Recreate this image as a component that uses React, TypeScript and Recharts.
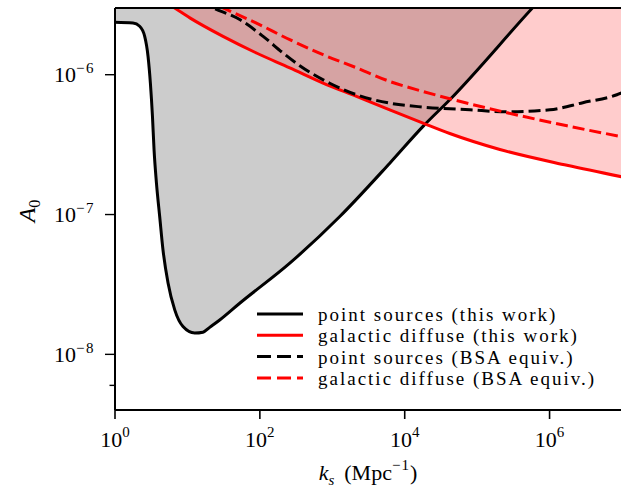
import { Area, ComposedChart, Label, Legend, Line, ReferenceLine, XAxis, YAxis } from "recharts";

const X_MIN = 1;
const X_MAX = 1e7;
const Y_MIN = 4e-9;
const Y_MAX = 3e-6;

const FONT = "'Liberation Serif', 'DejaVu Serif', serif";

const xTicks = [1, 1e2, 1e4, 1e6];
const yMajorTicks = [1e-8, 1e-7, 1e-6];
const yMinorTicks = [
  5e-9, 6e-9, 7e-9, 8e-9, 9e-9,
  2e-8, 3e-8, 4e-8, 5e-8, 6e-8, 7e-8, 8e-8, 9e-8,
  2e-7, 3e-7, 4e-7, 5e-7, 6e-7, 7e-7, 8e-7, 9e-7,
  2e-6,
];

// point sources (this work)
const psThisK = [1, 1.77, 2.19, 2.57, 2.86, 3.08, 3.29, 3.46, 3.73, 4.14, 4.6, 5.4, 6.68, 8.69, 12.6, 16.4, 20.3, 27.9, 52.7, 259, 1270, 6220, 1.79e4, 4.19e4, 5.87e5, 8.6e5];
const psThisA = [2.37e-6, 2.34e-6, 2.22e-6, 1.88e-6, 1.35e-6, 8.72e-7, 5.04e-7, 2.91e-7, 1.69e-7, 9.68e-8, 5.58e-8, 3.24e-8, 2.08e-8, 1.58e-8, 1.42e-8, 1.44e-8, 1.56e-8, 1.76e-8, 2.32e-8, 4.49e-8, 9.68e-8, 2.33e-7, 4.27e-7, 6.62e-7, 3.02e-6, 3.74e-6];

// galactic diffuse (this work)
const gdThisK = [4.14, 6.33, 10.8, 31, 89.7, 259, 746, 2160, 6220, 1.79e4, 4.19e4, 2.06e5, 1.74e6, 1e7];
const gdThisA = [3.48e-6, 3.05e-6, 2.55e-6, 1.88e-6, 1.43e-6, 1.12e-6, 8.72e-7, 7.0e-7, 5.61e-7, 4.51e-7, 3.8e-7, 2.92e-7, 2.25e-7, 1.86e-7];

// point sources (BSA equiv.)
const psBsaK = [14.8, 22.6, 52.7, 111, 209, 356, 923, 2160, 6220, 1.79e4, 7.93e4, 2.57e5, 1.01e6, 2.88e6, 8.5e6, 1e7];
const psBsaA = [3.33e-6, 3.0e-6, 2.48e-6, 1.88e-6, 1.43e-6, 1.16e-6, 8.69e-7, 7.19e-7, 6.26e-7, 5.87e-7, 5.61e-7, 5.43e-7, 5.61e-7, 6.31e-7, 7.19e-7, 7.43e-7];

// galactic diffuse (BSA equiv.)
const gdBsaK = [17.3, 31, 89.7, 259, 746, 2160, 6220, 1.79e4, 4.19e4, 2.58e5, 1.74e6, 1e7];
const gdBsaA = [3.44e-6, 3.0e-6, 2.34e-6, 1.78e-6, 1.39e-6, 1.12e-6, 8.95e-7, 7.59e-7, 6.73e-7, 5.35e-7, 4.31e-7, 3.6e-7];

const toRows = (ks: number[], as: number[]) => ks.map((k, i) => ({ k, a: as[i] }));

const psThis = toRows(psThisK, psThisA);
const gdThis = toRows(gdThisK, gdThisA);
const psBsa = toRows(psBsaK, psBsaA);
const gdBsa = toRows(gdBsaK, gdBsaA);

const legendItems = [
  { label: "point sources (this work)", color: "#000000", dash: undefined },
  { label: "galactic diffuse (this work)", color: "#ff0000", dash: undefined },
  { label: "point sources (BSA equiv.)", color: "#000000", dash: "14 6" },
  { label: "galactic diffuse (BSA equiv.)", color: "#ff0000", dash: "14 6" },
];

function XTick({ x, y, payload }: any) {
  const exp = Math.round(Math.log10(payload.value));
  return (
    <g>
      <line x1={x} x2={x} y1={y} y2={y + 9} stroke="#000" strokeWidth={1.6} />
      <text x={x} y={y + 37} textAnchor="middle" fontFamily={FONT} fontSize={22} fill="#000">
        10<tspan dy={-10} fontSize={15}>{exp}</tspan>
      </text>
    </g>
  );
}

function YTick({ x, y, payload }: any) {
  const v = payload.value;
  const major = yMajorTicks.includes(v);
  const exp = Math.round(Math.log10(v));
  return (
    <g>
      <line x1={x} x2={x - (major ? 10 : 5.5)} y1={y} y2={y} stroke="#000" strokeWidth={1.4} />
      {major && (
        <text x={x - 20} y={y + 7.5} textAnchor="end" fontFamily={FONT} fontSize={22} fill="#000">
          10<tspan dy={-9} fontSize={15} letterSpacing={1.5}>{"\u2212" + Math.abs(exp)}</tspan>
        </text>
      )}
    </g>
  );
}

function LegendBox() {
  return (
    <svg width={360} height={90}>
      {legendItems.map((it, i) => (
        <g key={it.label}>
          <line x1={0} x2={46} y1={11 + 21.3 * i} y2={11 + 21.3 * i} stroke={it.color} strokeWidth={3} strokeDasharray={it.dash} />
          <text x={61} y={18 + 21.3 * i} fontFamily={FONT} fontSize={19} letterSpacing={2} fill="#000">
            {it.label}
          </text>
        </g>
      ))}
    </svg>
  );
}

export default function App() {
  return (
    <div style={{ position: "absolute", left: 0, top: 0, width: 621, height: 487, overflow: "hidden", background: "#fff" }}>
      <ComposedChart width={623} height={487} margin={{ top: 8, right: 1, bottom: 0, left: 0 }}>
        <XAxis
          type="number"
          dataKey="k"
          scale="log"
          domain={[X_MIN, X_MAX]}
          allowDataOverflow
          ticks={xTicks}
          tick={<XTick />}
          tickLine={false}
          tickSize={0}
          tickMargin={0}
          height={77}
          axisLine={{ stroke: "#000", strokeWidth: 2 }}
        >
          <Label
            content={() => (
              <text x={368} y={480} textAnchor="middle" fontFamily={FONT} fontSize={22} fill="#000">
                <tspan fontStyle="italic">k</tspan>
                <tspan fontStyle="italic" fontSize={15} dy={5}>s</tspan>
                <tspan dy={-5}>{"\u2009 (Mpc"}</tspan>
                <tspan fontSize={15} dy={-10} letterSpacing={1}>{"\u22121"}</tspan>
                <tspan dy={10}>)</tspan>
              </text>
            )}
          />
        </XAxis>
        <YAxis
          type="number"
          dataKey="a"
          scale="log"
          domain={[Y_MIN, Y_MAX]}
          allowDataOverflow
          ticks={[...yMinorTicks, ...yMajorTicks]}
          tick={<YTick />}
          tickLine={false}
          tickSize={0}
          tickMargin={0}
          width={115}
          axisLine={{ stroke: "#000", strokeWidth: 2 }}
        >
          <Label
            content={() => (
              <text x={35} y={211} transform="rotate(-90, 35, 211)" textAnchor="middle" fontFamily={FONT} fontSize={24} fill="#000">
                <tspan fontStyle="italic">A</tspan>
                <tspan fontSize={16} dy={5}>0</tspan>
              </text>
            )}
          />
        </YAxis>

        <Area
          data={psThis}
          dataKey={(d: any) => [d.a, Y_MAX]}
          type="monotone"
          stroke="none"
          fill="#cccccc"
          fillOpacity={1}
          dot={false}
          activeDot={false}
          isAnimationActive={false}
        />
        <Area
          data={gdThis}
          dataKey={(d: any) => [d.a, Y_MAX]}
          type="monotone"
          stroke="none"
          fill="#ff0000"
          fillOpacity={0.2}
          dot={false}
          activeDot={false}
          isAnimationActive={false}
        />

        <Line data={psThis} dataKey="a" type="monotone" stroke="#000" strokeWidth={3} dot={false} activeDot={false} isAnimationActive={false} />
        <Line data={gdThis} dataKey="a" type="monotone" stroke="#ff0000" strokeWidth={3} dot={false} activeDot={false} isAnimationActive={false} />
        <Line data={psBsa} dataKey="a" type="monotone" stroke="#000" strokeWidth={3} strokeDasharray="12 5" dot={false} activeDot={false} isAnimationActive={false} />
        <Line data={gdBsa} dataKey="a" type="monotone" stroke="#ff0000" strokeWidth={3} strokeDasharray="12 5" dot={false} activeDot={false} isAnimationActive={false} />

        <ReferenceLine y={Y_MAX} stroke="#000" strokeWidth={2} />
        <ReferenceLine x={X_MAX} stroke="#000" strokeWidth={2} />

        <Legend
          layout="vertical"
          align="center"
          verticalAlign="middle"
          wrapperStyle={{ left: 257, top: 303, width: 360 }}
          content={() => <LegendBox />}
        />
      </ComposedChart>
    </div>
  );
}
